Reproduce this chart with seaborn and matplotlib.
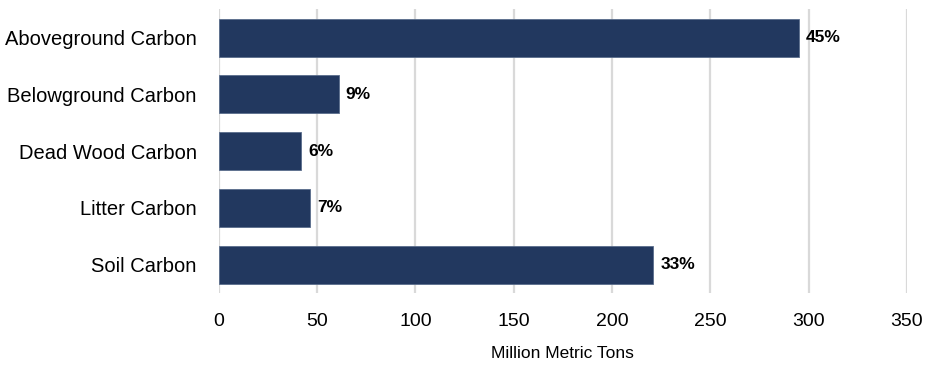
import matplotlib
matplotlib.use("Agg")
import matplotlib.pyplot as plt
import seaborn as sns
import pandas as pd

categories = ["Aboveground Carbon", "Belowground Carbon", "Dead Wood Carbon",
              "Litter Carbon", "Soil Carbon"]
tons = [295, 61, 42, 46.5, 221]
shares = ["45%", "9%", "6%", "7%", "33%"]
x_ticks = [0, 50, 100, 150, 200, 250, 300, 350]

sns.set_style("white")
plt.rcParams['font.family'] = ['Liberation Sans Narrow', 'Liberation Sans', 'DejaVu Sans']
plt.rcParams['text.color'] = 'black'
plt.rcParams['xtick.color'] = 'black'
plt.rcParams['ytick.color'] = 'black'
plt.rcParams['axes.labelcolor'] = 'black'

df = pd.DataFrame({"category": categories, "tons": tons})

fig = plt.figure(figsize=(9.25, 3.66), dpi=100)
ax = fig.add_axes([0.2365, 0.199, 0.7440, 0.776])

sns.barplot(data=df, x="tons", y="category", order=categories, color="#22385F",
            saturation=1, width=0.67, edgecolor="#5a6d8c", linewidth=0.6, ax=ax)

for i, (v, s) in enumerate(zip(tons, shares)):
    ax.text(v + 3.5, i, s, va="center", ha="left", fontsize=12.5, fontweight="bold",
            color="black")

ax.set_xlim(0, 350)
ax.set_ylim(4.5, -0.5)
ax.set_xticks(x_ticks)
ax.set_xticklabels([str(t) for t in x_ticks])
ax.grid(axis="x", color="#d9d9d9", linewidth=1.6)
ax.set_axisbelow(True)
for sp in ax.spines.values():
    sp.set_visible(False)
ax.tick_params(axis="x", labelsize=14, length=0, pad=14)
ax.tick_params(axis="y", labelsize=14.5, length=0, pad=16)
ax.set_ylabel("")
ax.set_xlabel("Million Metric Tons", fontsize=12.5, labelpad=12)

fig.savefig("out.png", dpi=100)
